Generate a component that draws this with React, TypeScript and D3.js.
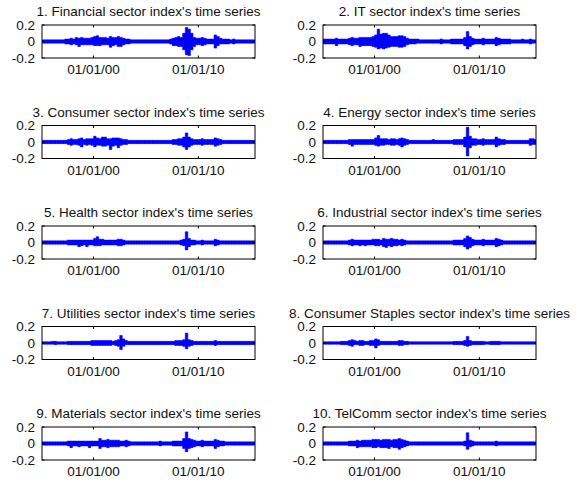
import * as d3 from "d3";

const titles = [
  "1. Financial sector index's time series",
  "2. IT sector index's time series",
  "3. Consumer sector index's time series",
  "4. Energy sector index's time series",
  "5. Health sector index's time series",
  "6. Industrial sector index's time series",
  "7. Utilities sector index's time series",
  "8. Consumer Staples sector index's time series",
  "9. Materials sector index's time series",
  "10. TelComm sector index's time series",
];

const xTickDates = [new Date(2000, 0, 1), new Date(2010, 0, 1)];
const xTickLabels = ["01/01/00", "01/01/10"];
const yTickValues = [-0.2, 0, 0.2];
const yTickLabels = ["-0.2", "0", "0.2"];

// quarterly high / low of the daily returns, 1995Q1 .. 2015Q2 (82 quarters)
const financialHigh = [
  0.02, 0.02, 0.02, 0.02, 0.02, 0.02, 0.02, 0.02, 0.02, 0.03, 0.03, 0.04,
  0.03, 0.05, 0.04, 0.05, 0.04, 0.04, 0.04, 0.05, 0.06, 0.07, 0.05, 0.05,
  0.05, 0.04, 0.06, 0.05, 0.05, 0.06, 0.05, 0.04, 0.03, 0.03, 0.02, 0.02,
  0.02, 0.02, 0.02, 0.02, 0.02, 0.02, 0.02, 0.02, 0.02, 0.02, 0.02, 0.02,
  0.02, 0.03, 0.04, 0.05, 0.06, 0.05, 0.10, 0.17, 0.15, 0.10, 0.05, 0.04,
  0.04, 0.05, 0.04, 0.03, 0.03, 0.03, 0.08, 0.06, 0.04, 0.03, 0.03, 0.03,
  0.02, 0.03, 0.02, 0.02, 0.02, 0.02, 0.02, 0.02, 0.02, 0.02,
];
const financialLow = [
  -0.02, -0.02, -0.02, -0.02, -0.02, -0.02, -0.02, -0.02, -0.02, -0.03, -0.03, -0.04,
  -0.03, -0.04, -0.06, -0.04, -0.04, -0.04, -0.04, -0.04, -0.05, -0.05, -0.05, -0.04,
  -0.04, -0.04, -0.07, -0.05, -0.04, -0.06, -0.06, -0.04, -0.03, -0.03, -0.02, -0.02,
  -0.02, -0.02, -0.02, -0.02, -0.02, -0.02, -0.02, -0.02, -0.02, -0.02, -0.02, -0.02,
  -0.02, -0.03, -0.05, -0.05, -0.06, -0.06, -0.10, -0.16, -0.17, -0.10, -0.06, -0.04,
  -0.04, -0.05, -0.04, -0.03, -0.03, -0.03, -0.08, -0.05, -0.03, -0.03, -0.03, -0.03,
  -0.02, -0.03, -0.02, -0.02, -0.02, -0.02, -0.02, -0.02, -0.02, -0.02,
];

const itHigh = [
  0.03, 0.03, 0.03, 0.03, 0.03, 0.04, 0.03, 0.03, 0.03, 0.03, 0.04, 0.05,
  0.04, 0.04, 0.05, 0.05, 0.05, 0.05, 0.05, 0.06, 0.08, 0.15, 0.09, 0.10,
  0.10, 0.08, 0.06, 0.06, 0.06, 0.07, 0.07, 0.06, 0.04, 0.03, 0.03, 0.03,
  0.03, 0.02, 0.02, 0.02, 0.02, 0.02, 0.02, 0.02, 0.02, 0.03, 0.02, 0.02,
  0.02, 0.03, 0.03, 0.03, 0.03, 0.03, 0.05, 0.12, 0.06, 0.04, 0.03, 0.03,
  0.03, 0.04, 0.03, 0.03, 0.03, 0.03, 0.05, 0.04, 0.03, 0.03, 0.03, 0.03,
  0.02, 0.02, 0.02, 0.02, 0.03, 0.02, 0.02, 0.03, 0.02, 0.02,
];
const itLow = [
  -0.03, -0.03, -0.03, -0.03, -0.03, -0.05, -0.03, -0.03, -0.03, -0.03, -0.04, -0.05,
  -0.04, -0.04, -0.06, -0.05, -0.05, -0.05, -0.05, -0.06, -0.07, -0.09, -0.08, -0.09,
  -0.08, -0.07, -0.06, -0.06, -0.06, -0.07, -0.07, -0.06, -0.04, -0.03, -0.03, -0.03,
  -0.02, -0.02, -0.02, -0.02, -0.02, -0.02, -0.02, -0.02, -0.02, -0.03, -0.02, -0.02,
  -0.02, -0.03, -0.03, -0.03, -0.03, -0.03, -0.05, -0.09, -0.06, -0.04, -0.03, -0.03,
  -0.03, -0.04, -0.03, -0.03, -0.03, -0.03, -0.05, -0.04, -0.03, -0.03, -0.03, -0.03,
  -0.02, -0.02, -0.02, -0.02, -0.02, -0.02, -0.02, -0.03, -0.02, -0.02,
];

const consumerHigh = [
  0.02, 0.02, 0.02, 0.02, 0.02, 0.02, 0.02, 0.02, 0.02, 0.02, 0.03, 0.04,
  0.03, 0.03, 0.04, 0.05, 0.03, 0.04, 0.04, 0.04, 0.07, 0.05, 0.04, 0.06,
  0.06, 0.04, 0.04, 0.05, 0.05, 0.05, 0.04, 0.03, 0.03, 0.02, 0.02, 0.02,
  0.02, 0.02, 0.02, 0.02, 0.02, 0.02, 0.02, 0.02, 0.02, 0.02, 0.02, 0.02,
  0.02, 0.02, 0.03, 0.03, 0.04, 0.04, 0.06, 0.11, 0.06, 0.04, 0.03, 0.03,
  0.03, 0.04, 0.03, 0.03, 0.03, 0.03, 0.05, 0.04, 0.03, 0.02, 0.02, 0.02,
  0.02, 0.02, 0.02, 0.02, 0.02, 0.02, 0.02, 0.02, 0.02, 0.02,
];
const consumerLow = [
  -0.02, -0.02, -0.02, -0.02, -0.02, -0.02, -0.02, -0.02, -0.02, -0.02, -0.03, -0.04,
  -0.03, -0.03, -0.04, -0.06, -0.03, -0.04, -0.03, -0.04, -0.06, -0.04, -0.04, -0.05,
  -0.05, -0.04, -0.09, -0.05, -0.04, -0.07, -0.04, -0.03, -0.03, -0.02, -0.02, -0.02,
  -0.02, -0.02, -0.02, -0.02, -0.02, -0.02, -0.02, -0.02, -0.02, -0.02, -0.02, -0.02,
  -0.02, -0.02, -0.03, -0.03, -0.04, -0.04, -0.06, -0.09, -0.06, -0.04, -0.03, -0.03,
  -0.03, -0.04, -0.03, -0.03, -0.03, -0.03, -0.05, -0.04, -0.03, -0.02, -0.02, -0.02,
  -0.02, -0.02, -0.02, -0.02, -0.02, -0.02, -0.02, -0.02, -0.02, -0.02,
];

const energyHigh = [
  0.02, 0.02, 0.02, 0.02, 0.02, 0.02, 0.02, 0.02, 0.02, 0.02, 0.03, 0.03,
  0.03, 0.03, 0.03, 0.03, 0.03, 0.03, 0.03, 0.03, 0.05, 0.08, 0.04, 0.04,
  0.04, 0.03, 0.04, 0.04, 0.03, 0.04, 0.05, 0.04, 0.03, 0.02, 0.02, 0.02,
  0.02, 0.02, 0.02, 0.02, 0.02, 0.02, 0.03, 0.02, 0.02, 0.02, 0.02, 0.02,
  0.02, 0.02, 0.03, 0.03, 0.03, 0.03, 0.06, 0.18, 0.07, 0.04, 0.04, 0.03,
  0.03, 0.04, 0.03, 0.03, 0.03, 0.03, 0.06, 0.04, 0.03, 0.03, 0.02, 0.02,
  0.02, 0.02, 0.02, 0.02, 0.02, 0.02, 0.02, 0.04, 0.04, 0.03,
];
const energyLow = [
  -0.02, -0.02, -0.02, -0.02, -0.02, -0.02, -0.02, -0.02, -0.02, -0.02, -0.03, -0.05,
  -0.03, -0.03, -0.03, -0.03, -0.03, -0.03, -0.03, -0.03, -0.04, -0.05, -0.04, -0.04,
  -0.03, -0.03, -0.04, -0.04, -0.03, -0.04, -0.06, -0.04, -0.03, -0.02, -0.02, -0.02,
  -0.02, -0.02, -0.02, -0.02, -0.02, -0.02, -0.02, -0.02, -0.02, -0.02, -0.02, -0.02,
  -0.02, -0.02, -0.03, -0.03, -0.03, -0.03, -0.06, -0.17, -0.07, -0.04, -0.04, -0.03,
  -0.03, -0.04, -0.03, -0.03, -0.03, -0.03, -0.06, -0.04, -0.03, -0.03, -0.02, -0.02,
  -0.02, -0.02, -0.02, -0.02, -0.02, -0.02, -0.02, -0.04, -0.03, -0.03,
];

const healthHigh = [
  0.02, 0.02, 0.02, 0.02, 0.02, 0.02, 0.02, 0.02, 0.02, 0.02, 0.03, 0.03,
  0.03, 0.03, 0.03, 0.03, 0.03, 0.03, 0.03, 0.03, 0.05, 0.07, 0.04, 0.04,
  0.03, 0.03, 0.03, 0.03, 0.03, 0.04, 0.04, 0.03, 0.02, 0.02, 0.02, 0.02,
  0.02, 0.02, 0.02, 0.02, 0.02, 0.02, 0.02, 0.02, 0.02, 0.02, 0.02, 0.02,
  0.02, 0.02, 0.02, 0.02, 0.02, 0.03, 0.04, 0.13, 0.05, 0.03, 0.03, 0.02,
  0.02, 0.03, 0.02, 0.02, 0.02, 0.02, 0.04, 0.03, 0.02, 0.02, 0.02, 0.02,
  0.02, 0.02, 0.02, 0.02, 0.02, 0.02, 0.02, 0.02, 0.02, 0.02,
];
const healthLow = [
  -0.02, -0.02, -0.02, -0.02, -0.02, -0.02, -0.02, -0.02, -0.02, -0.02, -0.03, -0.03,
  -0.03, -0.03, -0.05, -0.04, -0.03, -0.05, -0.03, -0.03, -0.04, -0.04, -0.04, -0.03,
  -0.03, -0.03, -0.03, -0.03, -0.03, -0.04, -0.04, -0.03, -0.02, -0.02, -0.02, -0.02,
  -0.02, -0.02, -0.02, -0.02, -0.02, -0.02, -0.02, -0.02, -0.02, -0.02, -0.02, -0.02,
  -0.02, -0.02, -0.02, -0.02, -0.02, -0.03, -0.04, -0.09, -0.05, -0.03, -0.03, -0.02,
  -0.02, -0.03, -0.02, -0.02, -0.02, -0.02, -0.04, -0.03, -0.02, -0.02, -0.02, -0.02,
  -0.02, -0.02, -0.02, -0.02, -0.02, -0.02, -0.02, -0.02, -0.02, -0.02,
];

const industrialHigh = [
  0.02, 0.02, 0.02, 0.02, 0.02, 0.02, 0.02, 0.02, 0.02, 0.02, 0.03, 0.04,
  0.03, 0.03, 0.03, 0.03, 0.03, 0.03, 0.03, 0.04, 0.04, 0.04, 0.03, 0.05,
  0.04, 0.04, 0.05, 0.04, 0.04, 0.03, 0.04, 0.03, 0.02, 0.02, 0.02, 0.02,
  0.02, 0.02, 0.02, 0.02, 0.02, 0.02, 0.02, 0.02, 0.02, 0.02, 0.02, 0.02,
  0.02, 0.02, 0.03, 0.03, 0.03, 0.03, 0.05, 0.08, 0.06, 0.04, 0.03, 0.03,
  0.03, 0.04, 0.03, 0.03, 0.03, 0.03, 0.05, 0.04, 0.03, 0.02, 0.02, 0.02,
  0.02, 0.02, 0.02, 0.02, 0.02, 0.02, 0.02, 0.02, 0.02, 0.02,
];
const industrialLow = [
  -0.02, -0.02, -0.02, -0.02, -0.02, -0.02, -0.02, -0.02, -0.02, -0.02, -0.03, -0.04,
  -0.03, -0.03, -0.04, -0.03, -0.04, -0.03, -0.03, -0.03, -0.04, -0.04, -0.03, -0.05,
  -0.06, -0.04, -0.05, -0.04, -0.04, -0.03, -0.04, -0.03, -0.02, -0.02, -0.02, -0.02,
  -0.02, -0.02, -0.02, -0.02, -0.02, -0.02, -0.02, -0.02, -0.02, -0.02, -0.02, -0.02,
  -0.02, -0.02, -0.03, -0.03, -0.03, -0.03, -0.05, -0.08, -0.06, -0.04, -0.03, -0.03,
  -0.03, -0.04, -0.03, -0.03, -0.03, -0.03, -0.05, -0.04, -0.03, -0.02, -0.02, -0.02,
  -0.02, -0.02, -0.02, -0.02, -0.02, -0.02, -0.02, -0.02, -0.02, -0.02,
];

const utilitiesHigh = [
  0.015, 0.015, 0.015, 0.015, 0.02, 0.02, 0.015, 0.015, 0.015, 0.015, 0.02, 0.02,
  0.02, 0.02, 0.02, 0.02, 0.02, 0.02, 0.02, 0.03, 0.03, 0.03, 0.03, 0.03,
  0.03, 0.03, 0.03, 0.02, 0.03, 0.04, 0.09, 0.05, 0.03, 0.02, 0.02, 0.02,
  0.02, 0.02, 0.02, 0.02, 0.02, 0.02, 0.02, 0.02, 0.02, 0.02, 0.02, 0.02,
  0.02, 0.02, 0.02, 0.03, 0.03, 0.03, 0.04, 0.12, 0.04, 0.03, 0.02, 0.02,
  0.02, 0.02, 0.02, 0.02, 0.02, 0.02, 0.03, 0.02, 0.02, 0.02, 0.02, 0.02,
  0.02, 0.02, 0.02, 0.02, 0.02, 0.02, 0.02, 0.02, 0.02, 0.02,
];
const utilitiesLow = [
  -0.015, -0.015, -0.015, -0.015, -0.015, -0.02, -0.015, -0.015, -0.015, -0.015, -0.02, -0.02,
  -0.02, -0.02, -0.02, -0.02, -0.02, -0.02, -0.02, -0.03, -0.03, -0.03, -0.03, -0.03,
  -0.03, -0.03, -0.03, -0.02, -0.03, -0.04, -0.08, -0.04, -0.02, -0.02, -0.02, -0.02,
  -0.02, -0.02, -0.02, -0.02, -0.02, -0.02, -0.02, -0.02, -0.02, -0.02, -0.02, -0.02,
  -0.02, -0.02, -0.02, -0.03, -0.03, -0.03, -0.04, -0.07, -0.04, -0.03, -0.02, -0.02,
  -0.02, -0.02, -0.02, -0.02, -0.02, -0.02, -0.03, -0.02, -0.02, -0.02, -0.02, -0.02,
  -0.02, -0.02, -0.02, -0.02, -0.02, -0.02, -0.02, -0.02, -0.02, -0.02,
];

const staplesHigh = [
  0.015, 0.015, 0.015, 0.015, 0.015, 0.015, 0.015, 0.02, 0.02, 0.02, 0.03, 0.04,
  0.03, 0.02, 0.03, 0.03, 0.02, 0.02, 0.03, 0.03, 0.05, 0.04, 0.02, 0.02,
  0.02, 0.02, 0.02, 0.02, 0.02, 0.03, 0.03, 0.02, 0.02, 0.015, 0.015, 0.015,
  0.015, 0.015, 0.015, 0.015, 0.015, 0.015, 0.015, 0.015, 0.015, 0.015, 0.015, 0.015,
  0.015, 0.015, 0.02, 0.02, 0.02, 0.02, 0.03, 0.08, 0.03, 0.02, 0.02, 0.02,
  0.02, 0.02, 0.015, 0.015, 0.02, 0.02, 0.02, 0.02, 0.015, 0.015, 0.015, 0.015,
  0.015, 0.015, 0.015, 0.015, 0.015, 0.015, 0.015, 0.015, 0.015, 0.015,
];
const staplesLow = [
  -0.015, -0.015, -0.015, -0.015, -0.015, -0.015, -0.015, -0.02, -0.02, -0.02, -0.03, -0.04,
  -0.02, -0.02, -0.03, -0.03, -0.02, -0.02, -0.03, -0.03, -0.06, -0.03, -0.02, -0.02,
  -0.02, -0.02, -0.02, -0.02, -0.02, -0.03, -0.03, -0.02, -0.02, -0.015, -0.015, -0.015,
  -0.015, -0.015, -0.015, -0.015, -0.015, -0.015, -0.015, -0.015, -0.015, -0.015, -0.015, -0.015,
  -0.015, -0.015, -0.02, -0.02, -0.02, -0.02, -0.03, -0.04, -0.03, -0.02, -0.02, -0.02,
  -0.02, -0.02, -0.015, -0.015, -0.02, -0.02, -0.02, -0.02, -0.015, -0.015, -0.015, -0.015,
  -0.015, -0.015, -0.015, -0.015, -0.015, -0.015, -0.015, -0.015, -0.015, -0.015,
];

const materialsHigh = [
  0.02, 0.02, 0.02, 0.02, 0.02, 0.02, 0.02, 0.02, 0.02, 0.02, 0.03, 0.03,
  0.03, 0.03, 0.03, 0.03, 0.03, 0.03, 0.03, 0.03, 0.03, 0.03, 0.06, 0.04,
  0.04, 0.05, 0.04, 0.04, 0.04, 0.04, 0.03, 0.03, 0.04, 0.03, 0.02, 0.02,
  0.02, 0.02, 0.02, 0.02, 0.02, 0.02, 0.02, 0.02, 0.02, 0.03, 0.02, 0.02,
  0.02, 0.02, 0.03, 0.03, 0.03, 0.03, 0.06, 0.14, 0.06, 0.05, 0.04, 0.03,
  0.03, 0.04, 0.03, 0.03, 0.03, 0.03, 0.05, 0.04, 0.03, 0.03, 0.02, 0.02,
  0.02, 0.02, 0.02, 0.02, 0.02, 0.02, 0.02, 0.02, 0.02, 0.02,
];
const materialsLow = [
  -0.02, -0.02, -0.02, -0.02, -0.02, -0.02, -0.02, -0.02, -0.02, -0.02, -0.03, -0.05,
  -0.03, -0.03, -0.04, -0.03, -0.03, -0.03, -0.05, -0.03, -0.03, -0.03, -0.06, -0.04,
  -0.04, -0.05, -0.04, -0.04, -0.04, -0.04, -0.03, -0.03, -0.04, -0.03, -0.02, -0.02,
  -0.02, -0.02, -0.02, -0.02, -0.02, -0.02, -0.02, -0.02, -0.02, -0.03, -0.02, -0.02,
  -0.02, -0.02, -0.03, -0.03, -0.03, -0.03, -0.06, -0.10, -0.06, -0.05, -0.04, -0.03,
  -0.03, -0.04, -0.03, -0.03, -0.03, -0.03, -0.06, -0.04, -0.03, -0.03, -0.02, -0.02,
  -0.02, -0.02, -0.02, -0.02, -0.02, -0.02, -0.02, -0.02, -0.02, -0.02,
];

const telcommHigh = [
  0.02, 0.02, 0.02, 0.02, 0.02, 0.02, 0.02, 0.02, 0.02, 0.02, 0.03, 0.03,
  0.03, 0.04, 0.03, 0.04, 0.04, 0.04, 0.04, 0.05, 0.05, 0.05, 0.04, 0.05,
  0.05, 0.05, 0.04, 0.05, 0.05, 0.06, 0.05, 0.04, 0.03, 0.02, 0.02, 0.02,
  0.02, 0.02, 0.02, 0.02, 0.02, 0.02, 0.02, 0.02, 0.02, 0.02, 0.02, 0.02,
  0.02, 0.02, 0.02, 0.02, 0.02, 0.02, 0.03, 0.13, 0.04, 0.03, 0.02, 0.02,
  0.02, 0.02, 0.02, 0.02, 0.02, 0.02, 0.03, 0.02, 0.02, 0.02, 0.02, 0.02,
  0.02, 0.02, 0.02, 0.02, 0.02, 0.02, 0.02, 0.02, 0.02, 0.02,
];
const telcommLow = [
  -0.02, -0.02, -0.02, -0.02, -0.02, -0.02, -0.02, -0.02, -0.02, -0.02, -0.03, -0.03,
  -0.03, -0.05, -0.04, -0.04, -0.04, -0.04, -0.04, -0.05, -0.05, -0.04, -0.05, -0.05,
  -0.05, -0.06, -0.04, -0.05, -0.05, -0.07, -0.05, -0.04, -0.03, -0.02, -0.02, -0.02,
  -0.02, -0.02, -0.02, -0.02, -0.02, -0.02, -0.02, -0.02, -0.02, -0.02, -0.02, -0.02,
  -0.02, -0.02, -0.02, -0.02, -0.02, -0.02, -0.03, -0.07, -0.04, -0.03, -0.02, -0.02,
  -0.02, -0.02, -0.02, -0.02, -0.02, -0.02, -0.03, -0.02, -0.02, -0.02, -0.02, -0.02,
  -0.02, -0.02, -0.02, -0.02, -0.02, -0.02, -0.02, -0.02, -0.02, -0.02,
];

const seriesHigh = [
  financialHigh, itHigh, consumerHigh, energyHigh, healthHigh,
  industrialHigh, utilitiesHigh, staplesHigh, materialsHigh, telcommHigh,
];
const seriesLow = [
  financialLow, itLow, consumerLow, energyLow, healthLow,
  industrialLow, utilitiesLow, staplesLow, materialsLow, telcommLow,
];

const quarters = d3.timeMonth.every(3)!.range(new Date(1995, 0, 1), new Date(2015, 6, 1));
const xDomain = [new Date(1995, 1, 1), new Date(2015, 4, 28)];

const colLeft = [42, 323];
const boxWidth = 213;
const boxHeight = 33;
const rowTop = 25;
const rowStep = 100.5;
const font = "'Liberation Sans', Arial, sans-serif";
const fontSize = 13.5;
const textColor = "#111";

type Pt = { date: Date; high: number; low: number };

function Panel({ index }: { index: number }) {
  const left = colLeft[index % 2];
  const top = rowTop + Math.floor(index / 2) * rowStep;
  const high = seriesHigh[index];
  const low = seriesLow[index];

  const xScale = d3.scaleTime().domain(xDomain).range([0, boxWidth]);
  const yScale = d3.scaleLinear().domain([-0.2, 0.2]).range([boxHeight, 0]);

  // each quarter's high/low envelope placed at the middle of the quarter
  const points: Pt[] = quarters.map((q, i) => ({
    date: d3.timeDay.offset(q, 45),
    high: high[i],
    low: low[i],
  }));

  const band = d3
    .area<Pt>()
    .x((d) => xScale(d.date))
    .y0((d) => yScale(d.low))
    .y1((d) => yScale(d.high))
    .curve(d3.curveStep);

  const clipId = `clip-${index}`;
  const tick = 2.5;

  return (
    <g transform={`translate(${left}, ${top})`}>
      <defs>
        <clipPath id={clipId}>
          <rect width={boxWidth} height={boxHeight} />
        </clipPath>
      </defs>

      <text
        x={boxWidth / 2}
        y={-9}
        textAnchor="middle"
        fontFamily={font}
        fontSize={fontSize}
        fill={textColor}
      >
        {titles[index]}
      </text>

      <g clipPath={`url(#${clipId})`}>
        <path d={band(points) ?? ""} fill="#0000ff" stroke="#0000ff" strokeWidth={0.5} />
        {points.map((p, i) => (
          <line
            key={i}
            x1={xScale(p.date)}
            x2={xScale(p.date)}
            y1={yScale(p.low)}
            y2={yScale(p.high)}
            stroke="#0000ff"
            strokeWidth={1}
          />
        ))}
      </g>

      <rect width={boxWidth} height={boxHeight} fill="none" stroke="#000" strokeWidth={1} />

      {xTickDates.map((d, i) => (
        <g key={`x-${i}`}>
          <line x1={xScale(d)} x2={xScale(d)} y1={boxHeight} y2={boxHeight - tick} stroke="#000" />
          <line x1={xScale(d)} x2={xScale(d)} y1={0} y2={tick} stroke="#000" />
          <text
            x={xScale(d)}
            y={boxHeight + 16}
            textAnchor="middle"
            fontFamily={font}
            fontSize={fontSize}
            fill={textColor}
          >
            {xTickLabels[i]}
          </text>
        </g>
      ))}

      {yTickValues.map((v, i) => (
        <g key={`y-${i}`}>
          <line x1={0} x2={tick} y1={yScale(v)} y2={yScale(v)} stroke="#000" />
          <line x1={boxWidth} x2={boxWidth - tick} y1={yScale(v)} y2={yScale(v)} stroke="#000" />
          <text
            x={-7}
            y={yScale(v)}
            dy="0.36em"
            textAnchor="end"
            fontFamily={font}
            fontSize={fontSize}
            fill={textColor}
          >
            {yTickLabels[i]}
          </text>
        </g>
      ))}
    </g>
  );
}

export default function App() {
  return (
    <svg
      width={577}
      height={484}
      style={{ position: "absolute", left: 0, top: 0, background: "#fff" }}
    >
      <rect width={577} height={484} fill="#fff" />
      {titles.map((_, i) => (
        <Panel key={i} index={i} />
      ))}
    </svg>
  );
}
